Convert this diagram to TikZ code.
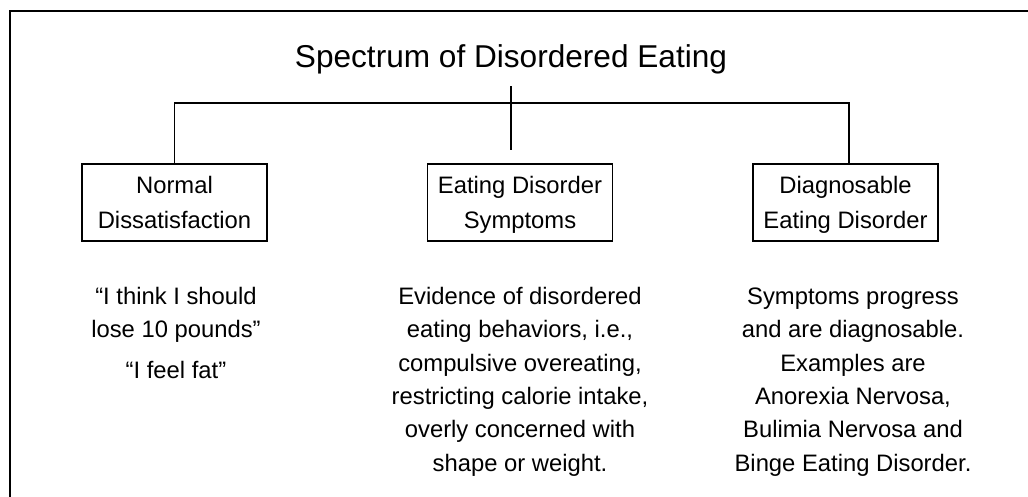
\documentclass[tikz,border=0pt]{standalone}
\usepackage{fontspec}
\setmainfont{Liberation Sans}
\usepackage{array}
\newcommand\mylines[1]{\begin{tabular}[t]{@{}c@{}}#1\end{tabular}}
\begin{document}
\begin{tikzpicture}[x=1pt,y=-1pt,
  boxstyle/.style={draw=black,line width=1.6pt,rectangle,minimum width=185pt,minimum height=77pt,inner sep=0pt},
  boxtext/.style={anchor=base,inner sep=0pt,font=\fontsize{23.8}{35}\selectfont},
  desctext/.style={anchor=base,inner sep=0pt,font=\fontsize{23.8}{33.3}\selectfont},
  conn/.style={line width=1.6pt,line cap=rect}]
\useasboundingbox (0,0) rectangle (1028,496);
\clip (0,0) rectangle (1028,496);
\draw[line width=2pt] (10,500) -- (10,11.3) -- (1032,11.3);
\node[anchor=base,inner sep=0pt,font=\fontsize{31.6}{38}\selectfont] (title) at (511,67) {Spectrum of Disordered Eating};
\node[boxstyle] (b1) at (174.5,202.5) {};
\node[boxstyle] (b2) at (520,202.5) {};
\node[boxstyle] (b3) at (845.5,202.5) {};
\node[boxtext] (t1) at (174.5,193.5) {\mylines{Normal\\Dissatisfaction}};
\node[boxtext] (t2) at (520,193.5) {\mylines{Eating Disorder\\Symptoms}};
\node[boxtext] (t3) at (845.5,193.5) {\mylines{Diagnosable\\Eating Disorder}};
\coordinate (j3) at (849,103);
\coordinate (m1) at (511,87);
\coordinate (m2) at (511,149);
\draw[conn] (b1.north) |- (j3) -- (j3 |- b3.north);
\draw[conn] (m1) -- (m2);
\node[desctext] (d1) at (176,304.5) {\mylines{“I think I should\\lose 10 pounds”}};
\node[desctext] (d1b) at (176,378) {“I feel fat”};
\node[desctext] (d2) at (520,304.5) {\mylines{Evidence of disordered\\eating behaviors, i.e.,\\compulsive overeating,\\restricting calorie intake,\\overly concerned with\\shape or weight.}};
\node[desctext] (d3) at (853,304.5) {\mylines{Symptoms progress\\and are diagnosable.\\Examples are\\Anorexia Nervosa,\\Bulimia Nervosa and\\Binge Eating Disorder.}};
\end{tikzpicture}
\end{document}
